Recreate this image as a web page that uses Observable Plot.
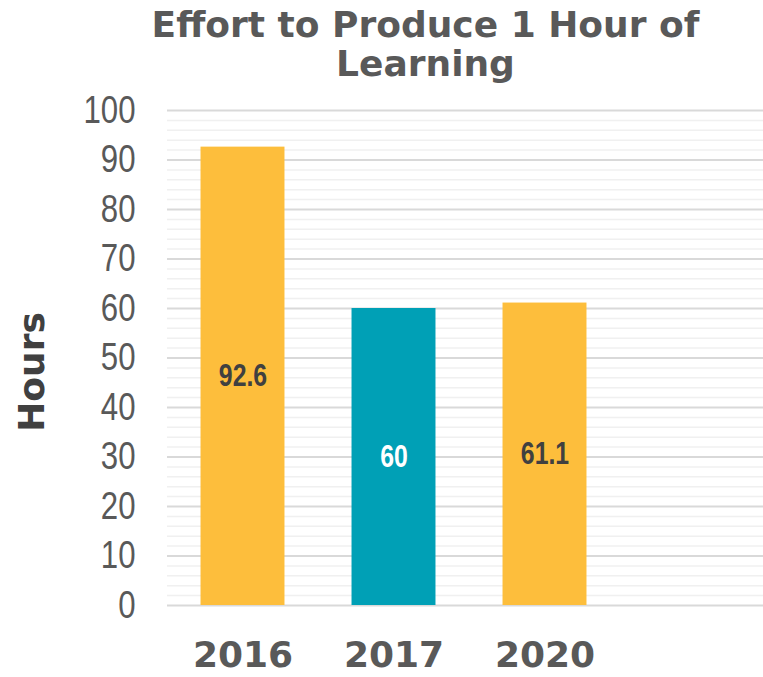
<!DOCTYPE html>
<html>
<head>
<meta charset="utf-8">
<script src="https://cdn.jsdelivr.net/npm/d3@7"></script>
<script src="https://cdn.jsdelivr.net/npm/@observablehq/plot@0.6"></script>
<style>
  html, body { margin: 0; padding: 0; background: #fff; overflow: hidden; }
  #wrap { width: 763px; height: 677px; position: relative; }
  #title {
    position: absolute; left: 0; top: 0; width: 763px; height: 88px;
    text-align: center; font-family: "DejaVu Sans", sans-serif; font-weight: bold;
    font-size: 36px; line-height: 39px; color: #595959; padding-top: 5px; box-sizing: border-box;
    padding-left: 88px;
  }
  #chart { position: absolute; left: 0; top: 88px; }
  #ylab {
    position: absolute; left: 31px; top: 372px; transform: translate(-50%, -50%) rotate(-90deg);
    font-family: "DejaVu Sans", sans-serif; font-weight: bold; font-size: 36px; color: #404040;
    white-space: nowrap;
  }
</style>
</head>
<body>
<div id="wrap">
  <div id="title">Effort to Produce 1 Hour of<br>Learning</div>
  <div id="chart"></div>
  <div id="ylab">Hours</div>
</div>
<script>
const years = ["2016", "2017", "2020"];
const hours = [92.6, 60, 61.1];
const barColors = ["#FDBE3C", "#00A0B6", "#FDBE3C"];
const labelColors = ["#404040", "#FFFFFF", "#404040"];
const yTicks = [0, 10, 20, 30, 40, 50, 60, 70, 80, 90, 100];
const minorTicks = d3.range(0, 101, 2).filter(v => v % 10 !== 0);

const data = years.map((y, i) => ({year: y, hours: hours[i], color: barColors[i], label: labelColors[i]}));
const domainX = [...years, ""];

const sans = "'Liberation Sans', Arial, sans-serif";

const chart = Plot.plot({
  width: 763,
  height: 589,
  marginTop: 22,
  marginBottom: 72,
  marginLeft: 167,
  marginRight: 0,
  style: {background: "transparent", overflow: "visible"},
  x: {type: "band", domain: domainX, range: [167, 771], paddingInner: 0.444, paddingOuter: 0.222, round: false},
  y: {domain: [0, 100], range: [517, 22]},
  marks: [
    Plot.ruleY(minorTicks, {stroke: "#F0F0F0", strokeWidth: 1.5}),
    Plot.ruleY(yTicks, {stroke: "#D9D9D9", strokeWidth: 2}),
    Plot.barY(data, {x: "year", y: "hours", fill: d => d.color}),
    Plot.text(data, {
      x: "year", y: d => d.hours / 2, text: d => String(d.hours),
      fill: d => d.label, fontSize: 31, fontWeight: "bold", fontFamily: sans
    }),
    Plot.axisY({
      ticks: yTicks, tickSize: 0, tickPadding: 32, fontSize: 39, fontFamily: sans,
      fill: "#595959", label: null
    }),
    Plot.axisX({
      tickSize: 0, tickPadding: 36, fontSize: 36, fontWeight: "bold",
      fontFamily: "'DejaVu Sans', sans-serif", fill: "#595959", label: null,
      tickFormat: d => d
    })
  ]
});
document.getElementById("chart").appendChild(chart);

// condense (narrow) the y tick labels and value labels, as in the reference
function condense(sel, k) {
  chart.querySelectorAll(sel).forEach(t => {
    const tr = t.getAttribute("transform") || "";
    t.setAttribute("transform", tr + ` scale(${k},1)`);
  });
}
condense('g[aria-label="y-axis tick label"] text', 0.8);
condense('g[aria-label="text"] text', 0.8);
</script>
</body>
</html>
